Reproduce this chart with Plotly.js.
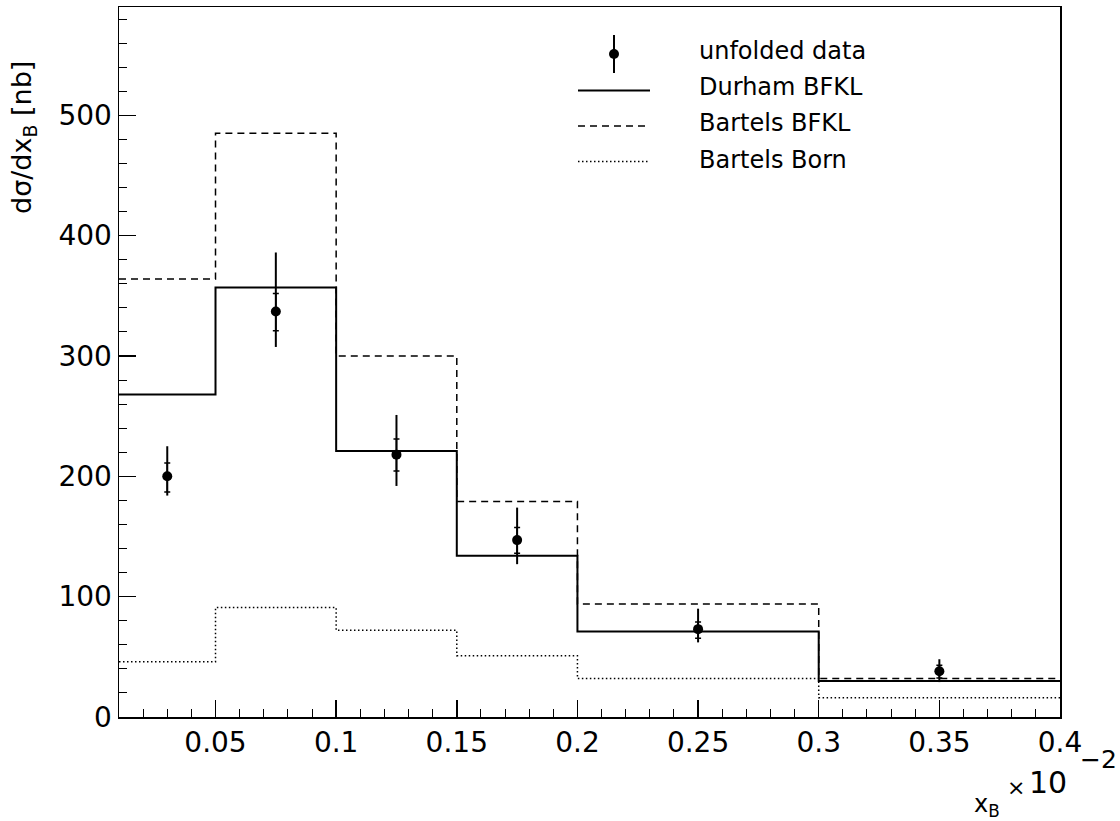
<!DOCTYPE html>
<html>
<head>
<meta charset="utf-8">
<script src="https://cdn.plot.ly/plotly-3.0.1.min.js"></script>
<style>
  html, body { margin: 0; padding: 0; background: #fff; }
  #chart { width: 1120px; height: 821px; }
</style>
</head>
<body>
<div id="chart"></div>
<script>
// Bin edges in x_B (units of 10^-2)
const binEdges = [0.01, 0.05, 0.1, 0.15, 0.2, 0.3, 0.4];

// Model predictions per bin [nb]
const durhamBFKL  = [268, 357, 221, 134, 71, 30];
const bartelsBFKL = [364, 485, 300, 179, 94, 32];
const bartelsBorn = [46, 91, 72, 51, 32, 16];

// Unfolded data points
const dataX = [0.03, 0.075, 0.125, 0.175, 0.25, 0.35];
const dataY = [200, 337, 218, 147, 73, 38];
const statUp   = [11, 15, 13, 10.5, 6, 5];
const statDown = [13, 16, 13.5, 11, 7.5, 5.5];
const totUp    = [25, 49, 33, 27, 17, 10];
const totDown  = [16, 29.5, 26, 20, 11, 9];

// Axis ticks
const xTickVals = [0.05, 0.1, 0.15, 0.2, 0.25, 0.3, 0.35, 0.4];
const xTickText = ['0.05', '0.1', '0.15', '0.2', '0.25', '0.3', '0.35', '0.4'];
const yTickVals = [0, 100, 200, 300, 400, 500];
const yTickText = ['0', '100', '200', '300', '400', '500'];

// Legend entries
const legendLabels = ['unfolded data', 'Durham BFKL', 'Bartels BFKL', 'Bartels Born'];

const FONT = 'DejaVu Sans, sans-serif';
const W = 1120, H = 821;
const M = { l: 119, r: 60, t: 7, b: 104 };
const PW = W - M.l - M.r, PH = H - M.t - M.b;
const px = x => (x - M.l) / PW;          // page pixel -> paper x
const py = y => (H - M.b - y) / PH;      // page pixel -> paper y

// histogram outline: repeat last value at the closing edge
function stepY(vals) { return vals.concat([vals[vals.length - 1]]); }

function histTrace(vals, dash, width) {
  return {
    type: 'scatter', mode: 'lines',
    x: binEdges, y: stepY(vals),
    line: { shape: 'hv', color: 'black', width: width, dash: dash },
    hoverinfo: 'skip', showlegend: false
  };
}

const traces = [
  histTrace(bartelsBorn, '1.5px,2.5px', 1.5),
  histTrace(bartelsBFKL, '7px,5px', 1.5),
  histTrace(durhamBFKL, 'solid', 2),
  {
    type: 'scatter', mode: 'markers', x: dataX, y: dataY,
    marker: { size: 10, color: 'black' },
    error_y: { type: 'data', symmetric: false, array: totUp, arrayminus: totDown,
               width: 0, thickness: 2, color: 'black' },
    showlegend: false
  },
  {
    type: 'scatter', mode: 'markers', x: dataX, y: dataY,
    marker: { size: 1, color: 'rgba(0,0,0,0)' },
    error_y: { type: 'data', symmetric: false, array: statUp, arrayminus: statDown,
               width: 3, thickness: 1.5, color: 'black' },
    showlegend: false, hoverinfo: 'skip'
  }
];

// hand-drawn legend
const legRows = [51, 87, 123, 160];
const legLineY = [54, 90.5, 126, 161.5];
const shapes = [
  { type: 'line', xref: 'paper', yref: 'paper', x0: px(614), x1: px(614), y0: py(35), y1: py(73),
    line: { color: 'black', width: 2 } },
  { type: 'circle', xref: 'paper', yref: 'paper', xsizemode: 'pixel', ysizemode: 'pixel',
    xanchor: px(614), yanchor: py(legLineY[0]), x0: -5, x1: 5, y0: -5, y1: 5,
    fillcolor: 'black', line: { color: 'black', width: 0 } },
  { type: 'line', xref: 'paper', yref: 'paper', x0: px(578), x1: px(650), y0: py(legLineY[1]), y1: py(legLineY[1]),
    line: { color: 'black', width: 2 } },
  { type: 'line', xref: 'paper', yref: 'paper', x0: px(578), x1: px(650), y0: py(legLineY[2]), y1: py(legLineY[2]),
    line: { color: 'black', width: 1.5, dash: '7px,5px' } },
  { type: 'line', xref: 'paper', yref: 'paper', x0: px(578), x1: px(650), y0: py(legLineY[3]), y1: py(legLineY[3]),
    line: { color: 'black', width: 1.5, dash: '1.5px,2.5px' } }
];

const annotations = legendLabels.map((t, i) => ({
  text: t, xref: 'paper', yref: 'paper', x: px(697), y: py(legRows[i]),
  xanchor: 'left', yanchor: 'middle', showarrow: false,
  font: { family: FONT, size: 24, color: 'black' }
}));

annotations.push(
  { text: 'd\u03c3/dx<sub>B</sub> [nb]', xref: 'paper', yref: 'paper',
    x: px(24), y: py(138), xanchor: 'center', yanchor: 'middle', textangle: -90,
    showarrow: false, font: { family: FONT, size: 27, color: 'black' } },
  // axis multiplier: "× 10" with a raised exponent
  { text: '\u00d7', xref: 'paper', yref: 'paper',
    x: px(1016), y: py(787), xanchor: 'center', yanchor: 'middle',
    showarrow: false, font: { family: FONT, size: 22, color: 'black' } },
  { text: '10', xref: 'paper', yref: 'paper',
    x: px(1069), y: py(782), xanchor: 'right', yanchor: 'middle',
    showarrow: false, font: { family: FONT, size: 30, color: 'black' } },
  { text: '\u22122', xref: 'paper', yref: 'paper',
    x: px(1119), y: py(760), xanchor: 'right', yanchor: 'middle',
    showarrow: false, font: { family: FONT, size: 25, color: 'black' } },
  { text: 'x<sub>B</sub>', xref: 'paper', yref: 'paper',
    x: px(987), y: py(805), xanchor: 'center', yanchor: 'middle',
    showarrow: false, font: { family: FONT, size: 24, color: 'black' } }
);

const layout = {
  width: W, height: H,
  margin: M,
  paper_bgcolor: 'white', plot_bgcolor: 'white',
  showlegend: false,
  font: { family: FONT, color: 'black' },
  xaxis: {
    range: [0.01, 0.4], tickvals: xTickVals, ticktext: xTickText,
    ticks: 'inside', ticklen: 17, tickwidth: 1.5, tickcolor: 'black',
    tickfont: { family: FONT, size: 28, color: 'black' },
    showline: true, linecolor: 'black', linewidth: 1.5, mirror: true,
    showgrid: false, zeroline: false,
    minor: { dtick: 0.01, tick0: 0, ticks: 'inside', ticklen: 8, tickwidth: 1, tickcolor: 'black', showgrid: false }
  },
  yaxis: {
    range: [0, 590], tickvals: yTickVals, ticktext: yTickText,
    ticks: 'inside', ticklen: 17, tickwidth: 1.5, tickcolor: 'black',
    tickfont: { family: FONT, size: 28, color: 'black' },
    showline: true, linecolor: 'black', linewidth: 1.5, mirror: true,
    showgrid: false, zeroline: false,
    minor: { dtick: 20, tick0: 0, ticks: 'inside', ticklen: 8, tickwidth: 1, tickcolor: 'black', showgrid: false }
  },
  shapes: shapes,
  annotations: annotations
};

Plotly.newPlot('chart', traces, layout, { staticPlot: true, displayModeBar: false });
</script>
</body>
</html>
